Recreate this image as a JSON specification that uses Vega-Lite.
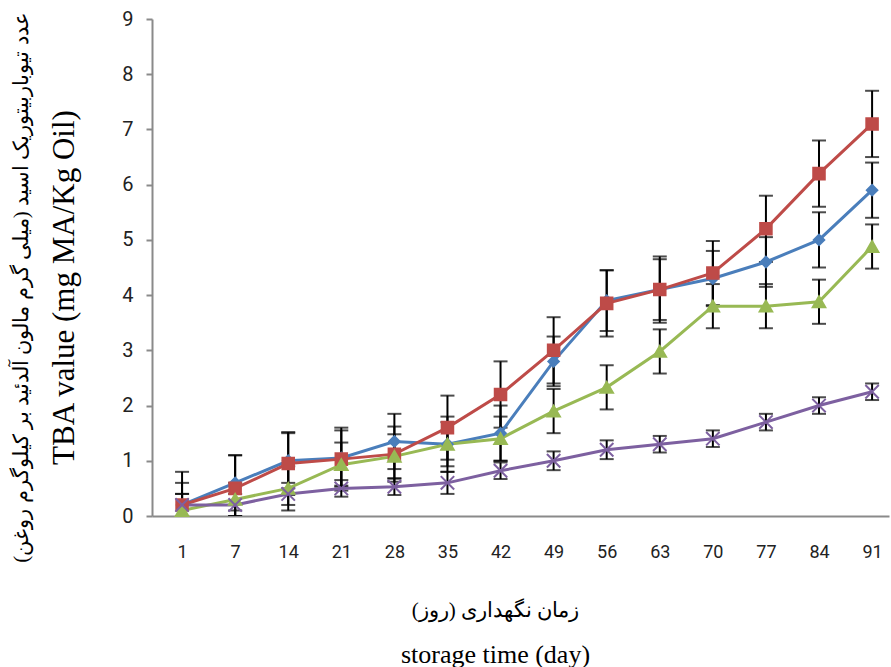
{
  "$schema": "https://vega.github.io/schema/vega-lite/v6.json",
  "width": 737,
  "height": 497,
  "autosize": {"type": "none"},
  "padding": {"left": 152, "top": 19, "right": 2, "bottom": 151},
  "background": "white",
  "config": {"view": {"stroke": null}, "axis": {"grid": false}},
  "title": {
    "text": "عدد تیوباربیتوریک اسید (میلی گرم مالون آلدئید بر کیلوگرم روغن)",
    "subtitle": "TBA value (mg MA/Kg Oil)",
    "orient": "left",
    "anchor": "middle",
    "font": "Liberation Serif",
    "fontSize": 21,
    "fontWeight": "normal",
    "color": "black",
    "subtitleFont": "Liberation Serif",
    "subtitleFontSize": 31,
    "subtitleColor": "black",
    "subtitlePadding": 18,
    "offset": 42,
    "dx": -20
  },
  "resolve": {"axis": {"x": "independent"}},
  "data": {
    "values": [
      {"day": 1, "series": "A", "value": 0.2, "err": 0.4},
      {"day": 7, "series": "A", "value": 0.6, "err": 0.5},
      {"day": 14, "series": "A", "value": 1.0, "err": 0.5},
      {"day": 21, "series": "A", "value": 1.05, "err": 0.5},
      {"day": 28, "series": "A", "value": 1.35, "err": 0.5},
      {"day": 35, "series": "A", "value": 1.3, "err": 0.5},
      {"day": 42, "series": "A", "value": 1.5, "err": 0.5},
      {"day": 49, "series": "A", "value": 2.8, "err": 0.45},
      {"day": 56, "series": "A", "value": 3.9, "err": 0.55},
      {"day": 63, "series": "A", "value": 4.1, "err": 0.55},
      {"day": 70, "series": "A", "value": 4.3, "err": 0.5},
      {"day": 77, "series": "A", "value": 4.6, "err": 0.45},
      {"day": 84, "series": "A", "value": 5.0, "err": 0.5},
      {"day": 91, "series": "A", "value": 5.9, "err": 0.5},
      {"day": 1, "series": "B", "value": 0.2, "err": 0.6},
      {"day": 7, "series": "B", "value": 0.5, "err": 0.6},
      {"day": 14, "series": "B", "value": 0.95, "err": 0.57},
      {"day": 21, "series": "B", "value": 1.03, "err": 0.57},
      {"day": 28, "series": "B", "value": 1.12, "err": 0.5},
      {"day": 35, "series": "B", "value": 1.6, "err": 0.58},
      {"day": 42, "series": "B", "value": 2.2, "err": 0.6},
      {"day": 49, "series": "B", "value": 3.0, "err": 0.6},
      {"day": 56, "series": "B", "value": 3.85, "err": 0.6},
      {"day": 63, "series": "B", "value": 4.1, "err": 0.6},
      {"day": 70, "series": "B", "value": 4.4, "err": 0.58},
      {"day": 77, "series": "B", "value": 5.2, "err": 0.6},
      {"day": 84, "series": "B", "value": 6.2, "err": 0.6},
      {"day": 91, "series": "B", "value": 7.1, "err": 0.6},
      {"day": 1, "series": "C", "value": 0.1, "err": 0.3},
      {"day": 7, "series": "C", "value": 0.3, "err": 0.3},
      {"day": 14, "series": "C", "value": 0.5, "err": 0.4},
      {"day": 21, "series": "C", "value": 0.93, "err": 0.4},
      {"day": 28, "series": "C", "value": 1.08, "err": 0.4},
      {"day": 35, "series": "C", "value": 1.3, "err": 0.4},
      {"day": 42, "series": "C", "value": 1.4, "err": 0.4},
      {"day": 49, "series": "C", "value": 1.9, "err": 0.4},
      {"day": 56, "series": "C", "value": 2.33, "err": 0.4},
      {"day": 63, "series": "C", "value": 2.98, "err": 0.4},
      {"day": 70, "series": "C", "value": 3.8, "err": 0.4},
      {"day": 77, "series": "C", "value": 3.8, "err": 0.4},
      {"day": 84, "series": "C", "value": 3.88, "err": 0.4},
      {"day": 91, "series": "C", "value": 4.88, "err": 0.4},
      {"day": 1, "series": "D", "value": 0.2, "err": 0.2},
      {"day": 7, "series": "D", "value": 0.2, "err": 0.2},
      {"day": 14, "series": "D", "value": 0.4, "err": 0.2},
      {"day": 21, "series": "D", "value": 0.5, "err": 0.15},
      {"day": 28, "series": "D", "value": 0.53, "err": 0.15},
      {"day": 35, "series": "D", "value": 0.6, "err": 0.2},
      {"day": 42, "series": "D", "value": 0.82, "err": 0.15},
      {"day": 49, "series": "D", "value": 1.0, "err": 0.17},
      {"day": 56, "series": "D", "value": 1.2, "err": 0.17},
      {"day": 63, "series": "D", "value": 1.3, "err": 0.15},
      {"day": 70, "series": "D", "value": 1.4, "err": 0.15},
      {"day": 77, "series": "D", "value": 1.7, "err": 0.15},
      {"day": 84, "series": "D", "value": 2.0, "err": 0.15},
      {"day": 91, "series": "D", "value": 2.25, "err": 0.15}
    ]
  },
  "encoding": {
    "y": {
      "field": "value",
      "type": "quantitative",
      "scale": {"domain": [0, 9], "nice": false},
      "axis": {
        "title": null,
        "values": [0, 1, 2, 3, 4, 5, 6, 7, 8, 9],
        "labelFont": "Roboto",
        "labelFontSize": 20,
        "labelColor": "#222222",
        "labelPadding": 13,
        "tickSize": 6,
        "tickColor": "#8a8a8a",
        "tickWidth": 2,
        "domainColor": "#8a8a8a",
        "domainWidth": 2
      }
    }
  },
  "layer": [
    {
      "mark": {"type": "errorbar", "ticks": true, "color": "black", "thickness": 2, "size": 14, "clip": true},
      "encoding": {
        "x": {
          "field": "day",
          "type": "ordinal",
          "scale": {"type": "point", "padding": 0.4425, "align": 0.64},
          "axis": {
            "orient": "bottom",
            "title": "زمان نگهداری (روز)",
            "titleFont": "Liberation Serif",
            "titleFontSize": 21,
            "titleFontWeight": "normal",
            "titleColor": "black",
            "titlePadding": 38,
            "titleX": 343,
            "labelAngle": 0,
            "labelFont": "Roboto",
            "labelFontSize": 18,
            "labelColor": "#222222",
            "labelPadding": 27,
            "ticks": false,
            "domainColor": "#8a8a8a",
            "domainWidth": 2
          }
        },
        "yError": {"field": "err"},
        "detail": {"field": "series"}
      }
    },
    {
      "mark": {"type": "line", "strokeWidth": 3},
      "encoding": {
        "x": {
          "field": "day",
          "type": "ordinal",
          "scale": {"type": "point", "padding": 0.4425, "align": 0.64},
          "axis": {
            "orient": "bottom",
            "title": "storage time (day)",
            "titleFont": "Liberation Serif",
            "titleFontSize": 26,
            "titleFontWeight": "normal",
            "titleColor": "black",
            "titlePadding": 125,
            "titleX": 343,
            "labels": false,
            "ticks": false,
            "domain": false
          }
        },
        "color": {
          "field": "series",
          "type": "nominal",
          "scale": {"domain": ["A", "B", "C", "D"], "range": ["#4a7ebb", "#be4b48", "#98b954", "#7d60a0"]},
          "legend": null
        }
      }
    },
    {
      "mark": {"type": "point", "filled": true, "opacity": 1, "strokeWidth": 2},
      "encoding": {
        "x": {
          "field": "day",
          "type": "ordinal",
          "scale": {"type": "point", "padding": 0.4425, "align": 0.64},
          "axis": null
        },
        "fill": {
          "field": "series",
          "type": "nominal",
          "scale": {"domain": ["A", "B", "C", "D"], "range": ["#4a7ebb", "#be4b48", "#98b954", "#7d60a0"]},
          "legend": null
        },
        "stroke": {
          "field": "series",
          "type": "nominal",
          "scale": {"domain": ["A", "B", "C", "D"], "range": ["#4a7ebb", "#be4b48", "#98b954", "#7d60a0"]},
          "legend": null
        },
        "shape": {
          "field": "series",
          "type": "nominal",
          "scale": {"domain": ["A", "B", "C", "D"], "range": ["diamond", "square", "triangle-up", "M-1,-1L1,1M-1,1L1,-1"]},
          "legend": null
        },
        "size": {
          "field": "series",
          "type": "nominal",
          "scale": {"domain": ["A", "B", "C", "D"], "range": [110, 180, 150, 110]},
          "legend": null
        }
      }
    }
  ]
}
